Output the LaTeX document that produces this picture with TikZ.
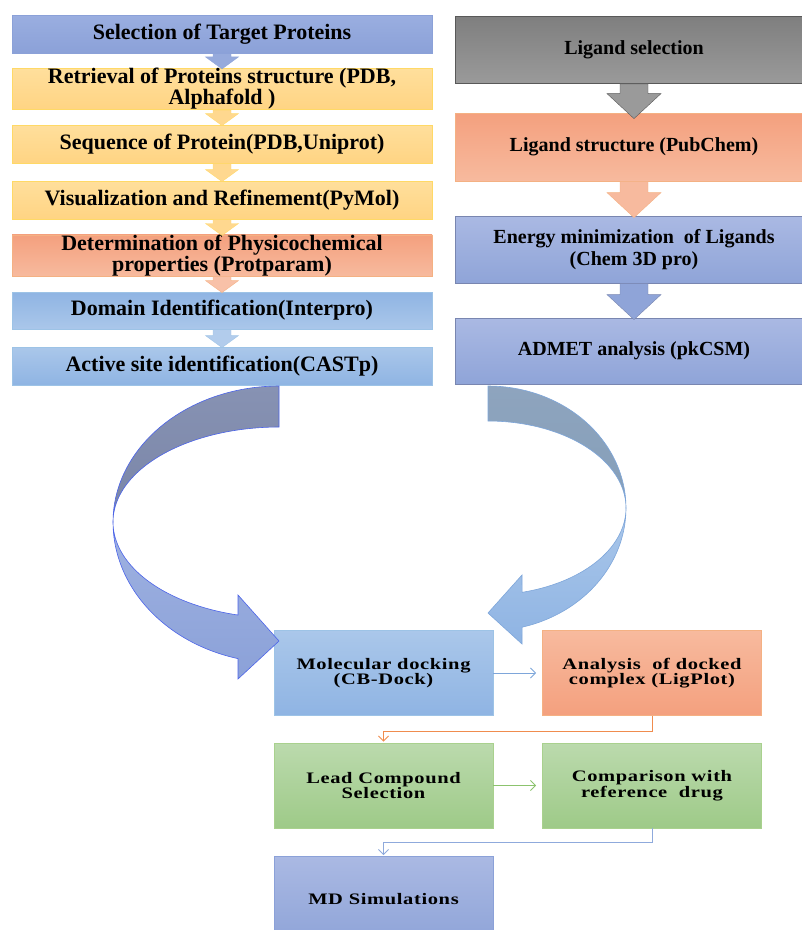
\documentclass[tikz,border=0pt]{standalone}
\usepackage{fontspec}
\setmainfont{Liberation Serif}
\usetikzlibrary{calc,arrows.meta}

% Cores
\definecolor{roxoA}{HTML}{9AAEE0}
\definecolor{roxoB}{HTML}{8BA1D8}
\definecolor{amarA}{HTML}{FFDF9C}
\definecolor{amarB}{HTML}{FFD483}
\definecolor{amarL}{HTML}{FFD966}
\definecolor{salmA}{HTML}{F4A07E}
\definecolor{salmB}{HTML}{F7BA9E}
\definecolor{salmL}{HTML}{F4B183}
\definecolor{azulA}{HTML}{8FB4E3}
\definecolor{azulB}{HTML}{AAC7EA}
\definecolor{azulL}{HTML}{9DC3E6}
\definecolor{cinzaA}{HTML}{7F7F7F}
\definecolor{cinzaB}{HTML}{9A9A9A}
\definecolor{cinzaL}{HTML}{595959}
\definecolor{lilasA}{HTML}{AAB9E3}
\definecolor{lilasB}{HTML}{8FA4D8}
\definecolor{lilasL}{HTML}{7986B0}
\definecolor{verdeA}{HTML}{BBDAAD}
\definecolor{verdeB}{HTML}{9ECA88}
\definecolor{verdeL}{HTML}{A9D18E}
\definecolor{ligAzul}{HTML}{7EA6DA}
\definecolor{ligLaranja}{HTML}{F08C4E}
\definecolor{ligVerde}{HTML}{8CC36E}
\definecolor{ligRoxo}{HTML}{8FAADC}
\definecolor{curvaEscA}{HTML}{8792B3}
\definecolor{curvaEscB}{HTML}{7985A7}
\definecolor{curvaDirA}{HTML}{8EA4BE}
\definecolor{curvaDirB}{HTML}{859FB9}

\newcommand{\fonteesq}{\bfseries\fontsize{22}{19.5}\selectfont}
\newcommand{\fontedir}{\bfseries\fontsize{20}{22}\selectfont}
\newcommand{\fontebaixo}{\bfseries\fontsize{16}{13.5}\selectfont\addfontfeature{FakeStretch=1.28,LetterSpace=4}}

% seta em bloco: de, para, meia haste, meia cabeca, comprimento cabeca, avanco, estilo
\newcommand{\blockarrow}[7]{%
  \filldraw[#7] ($(#1.south)+(-#3,0)$) -- ($(#2.north)+(-#3,{#6-#5})$)
    -- ($(#2.north)+(-#4,{#6-#5})$) -- ($(#2.north)+(0,#6)$)
    -- ($(#2.north)+(#4,{#6-#5})$) -- ($(#2.north)+(#3,{#6-#5})$)
    -- ($(#1.south)+(#3,0)$) -- cycle;}

\tikzset{
  caixa/.style={draw, line width=0.8pt, inner sep=0pt, align=center},
  esq/.style={caixa, minimum width=420, minimum height=38, font=\fonteesq},
  dir/.style={caixa, minimum width=358, minimum height=67, font=\fontedir},
  baixo/.style={caixa, minimum width=219, minimum height=85, font=\fontebaixo},
  roxo/.style={top color=roxoA, bottom color=roxoB, draw=roxoB},
  amar/.style={top color=amarA, bottom color=amarB, draw=amarL},
  salm/.style={top color=salmA, bottom color=salmB, draw=salmL},
  salminv/.style={top color=salmB, bottom color=salmA, draw=salmL},
  azul/.style={top color=azulA, bottom color=azulB, draw=azulL},
  azulinv/.style={top color=azulB, bottom color=azulA, draw=azulL},
  cinza/.style={top color=cinzaA, bottom color=cinzaB, draw=cinzaL},
  lilas/.style={top color=lilasA, bottom color=lilasB, draw=lilasL},
  verde/.style={top color=verdeA, bottom color=verdeB, draw=verdeL},
  curva/.style={line width=0.6pt, samples=50},
  lig/.style={line width=0.9pt, -{Straight Barb[length=5pt,width=10pt]}},
}

\begin{document}
\begin{tikzpicture}[x=1pt, y=-1pt]
        \useasboundingbox (0,0) rectangle (802,930);
        % Coluna das proteinas
        \node[esq, roxo] (sel) at (222,34) {Selection of Target Proteins};
        \node[esq, amar] (ret) at (222,89) {Retrieval of Proteins structure (PDB,\\ Alphafold )};
        \node[esq, amar] (seq) at (222,144) {Sequence of Protein(PDB,Uniprot)};
        \node[esq, amar] (vis) at (222,200) {Visualization and Refinement(PyMol)};
        \node[esq, salm, minimum height=37] (det) at (222,255.5) {Determination of Physicochemical\\ properties (Protparam)};
        \node[esq, azul, minimum height=37] (dom) at (222,310.5) {Domain Identification(Interpro)};
        \node[esq, azulinv] (act) at (222,366) {Active site identification(CASTp)};
        \blockarrow{sel}{ret}{9}{16.5}{12}{1}{fill=roxoB, draw=roxoB, opacity=.9}
        \blockarrow{ret}{seq}{9}{16.5}{12}{1}{fill=amarB, draw=amarL, opacity=.9}
        \blockarrow{seq}{vis}{9}{16.5}{12}{1}{fill=amarB, draw=amarL, opacity=.9}
        \blockarrow{vis}{det}{9}{16.5}{12}{1}{fill=amarB, draw=amarL, opacity=.9}
        \blockarrow{det}{dom}{9}{16.5}{12}{1}{fill=salmB, draw=salmL, opacity=.9}
        \blockarrow{dom}{act}{9}{16.5}{12}{1}{fill=azulB, draw=azulL, opacity=.9}
        % Coluna dos ligantes
        \node[dir, cinza] (lig) at (634,50) {Ligand selection};
        \node[dir, salm, minimum height=68] (lstr) at (634,147) {Ligand structure (PubChem)};
        \node[dir, lilas] (emin) at (634,249.5) {Energy minimization\ \ of Ligands\\ (Chem 3D pro)};
        \node[dir, lilas, minimum height=66] (admet) at (634,351) {ADMET analysis (pkCSM)};
        \blockarrow{lig}{lstr}{14}{27}{25}{6}{fill=cinzaB, draw=cinzaL}
        \blockarrow{lstr}{emin}{14}{27}{25}{2}{fill=salmB, draw=salmL}
        \blockarrow{emin}{admet}{14}{27}{25}{2}{fill=lilasB, draw=lilasL}
        % Docking e etapas finais
        \node[baixo, azulinv] (dock) at (383.5,673) {Molecular docking\\ (CB-Dock)};
        \node[baixo, salminv] (anal) at (652,673) {Analysis\ \ of docked\\ complex (LigPlot)};
        \node[baixo, verde] (lead) at (383.5,785.5) {Lead Compound\\ Selection};
        \node[baixo, verde] (comp) at (652,785.5) {Comparison with\\ reference\ \ drug};
        \node[baixo, lilas, draw=roxoB] (md) at (383.5,899) {MD Simulations};
        \draw[lig, ligAzul, shorten >=6pt] (dock) -- (anal);
        \draw[lig, ligLaranja, shorten >=1pt] (anal.south) -- ++(0,16) -| (lead.north);
        \draw[lig, ligVerde, shorten >=6pt] (lead) -- (comp);
        \draw[lig, ligRoxo, shorten >=1pt] (comp.south) -- ++(0,14) -| (md.north);
        % Seta curva esquerda
        \begin{scope}[shift={(279,522)}]
          \draw[curva, draw=ligAzul!60!blue, top color=curvaEscA, bottom color=curvaEscB]
            plot[domain=270:180] ({166*cos(\x)},{136*sin(\x)})
            -- plot[domain=180:270] ({166*cos(\x)},{95*sin(\x)}) -- cycle;
          \draw[curva, draw=ligAzul!60!blue, top color=roxoA!95!white, bottom color=roxoB]
            plot[domain=180:104.3] ({166*cos(\x)},{141*sin(\x)})
            -- (-41,157) -- (0,119) -- (-41,73)
            -- plot[domain=104.3:180] ({166*cos(\x)},{96*sin(\x)}) -- cycle;
        \end{scope}
        % Seta curva direita
        \begin{scope}[shift={(488,508)}]
          \draw[curva, draw=ligAzul, top color=curvaDirA, bottom color=curvaDirB]
            plot[domain=270:360] ({138*cos(\x)},{122*sin(\x)})
            -- plot[domain=360:270] ({138*cos(\x)},{87*sin(\x)}) -- cycle;
          \draw[curva, draw=ligAzul, top color=azulB, bottom color=azulA]
            plot[domain=0:75.7] ({138*cos(\x)},{123*sin(\x)})
            -- (34,136) -- (0,105) -- (34,67)
            -- plot[domain=75.7:0] ({138*cos(\x)},{87*sin(\x)}) -- cycle;
        \end{scope}
    \end{tikzpicture}
\end{document}
